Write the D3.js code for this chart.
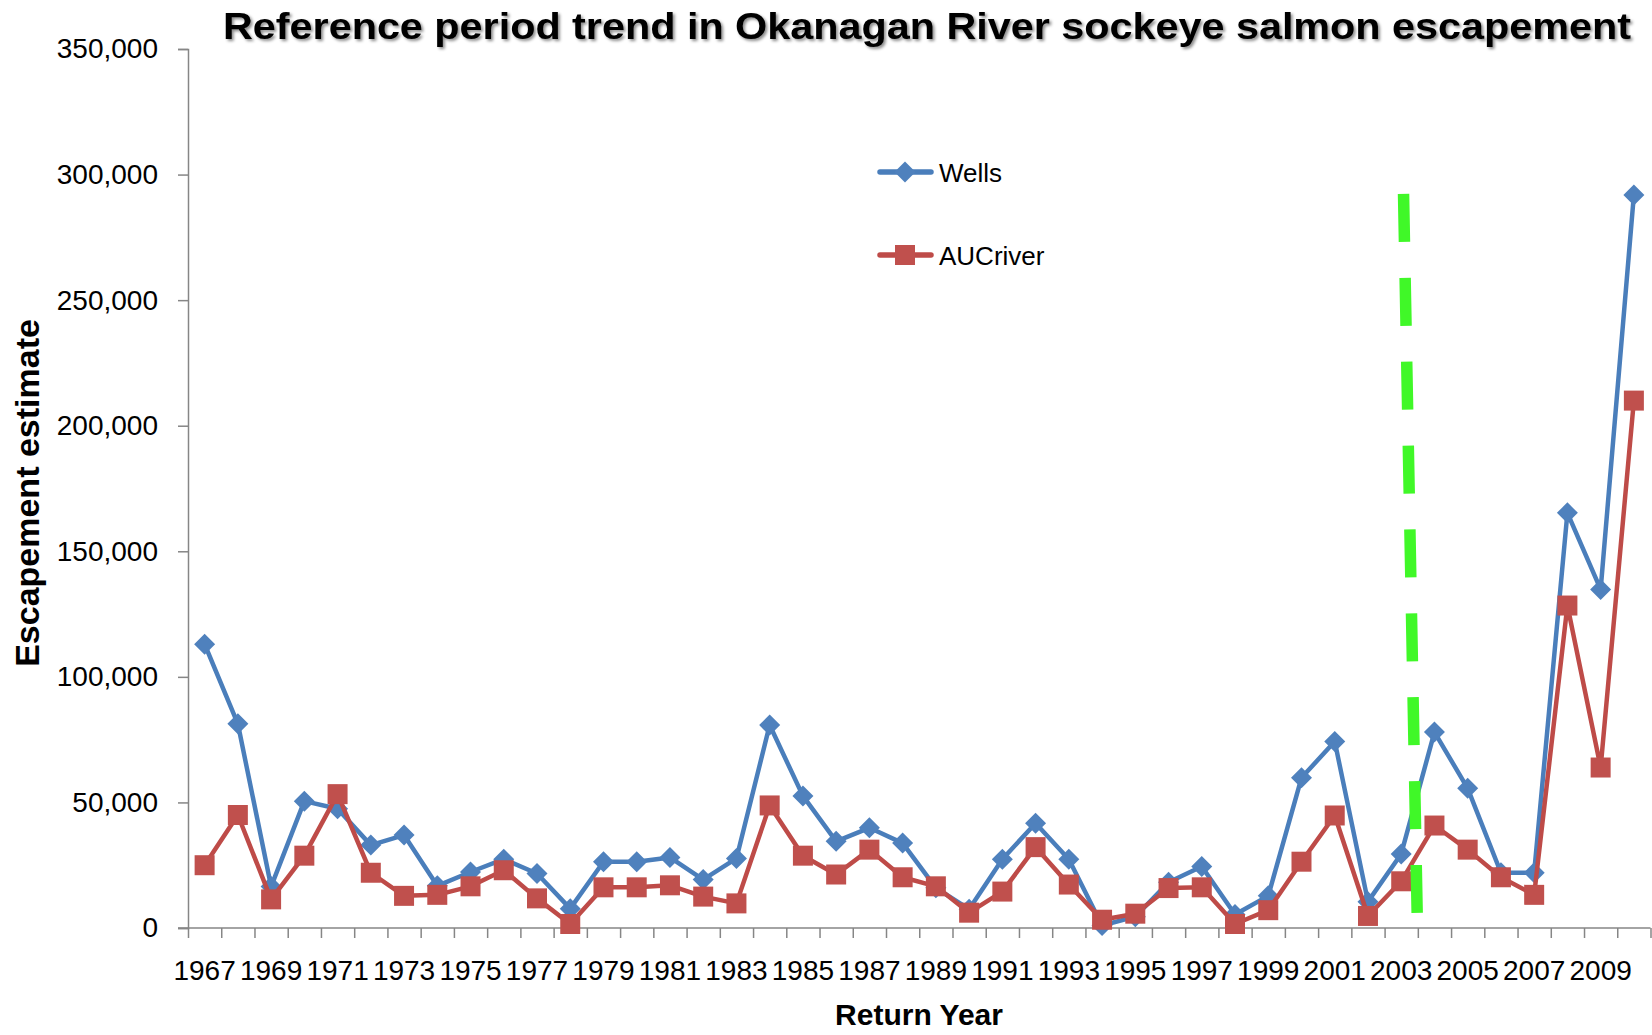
<!DOCTYPE html>
<html>
<head>
<meta charset="utf-8">
<script src="https://cdn.jsdelivr.net/npm/d3@7/dist/d3.min.js"></script>
<style>
    body { margin: 0; background: #fff; }
    svg { display: block; font-family: 'Liberation Sans', Arial, sans-serif; }
</style>
</head>
<body>
<svg width="1652" height="1035"></svg>
<script>
// data
var years = d3.range(1967, 2011);

var wells = [113000, 81300, 16500, 50500, 47500, 33000, 37000, 16800, 22300, 27400,
             21700, 7700, 26400, 26400, 28100, 19300, 27700, 80800, 52600, 34500,
             39900, 33800, 16000, 7500, 27400, 41700, 27400, 1000, 4500, 18200,
             24500, 5400, 12800, 59800, 74300, 10500, 29500, 78000, 55600, 22000,
             22000, 165300, 134800, 291900];

var aucRiver = [25000, 45000, 11400, 28800, 53300, 22000, 12800, 13200, 16600, 23000,
                11800, 1600, 16200, 16200, 17000, 12500, 9800, 48800, 28800, 21300,
                31200, 20200, 16600, 6100, 14500, 32200, 17300, 3300, 5700, 15900,
                16200, 1600, 7100, 26400, 44800, 4800, 18600, 40800, 31200, 20200,
                13200, 128400, 63900, 210000];

var yTicks = [0, 50000, 100000, 150000, 200000, 250000, 300000, 350000];
var xLabelYears = years.filter(function(d) { return d % 2 === 1; });

// green dashed marker line (year, value at both ends)
var greenLine = [{year: 2003.07, value: 292300}, {year: 2003.48, value: 5900}];

var series = [
    {name: 'Wells', values: wells, line: '#4A7EBB', fill: '#4F81BD', shape: 'diamond'},
    {name: 'AUCriver', values: aucRiver, line: '#BE4B48', fill: '#C0504D', shape: 'square'}
];

var svg = d3.select('svg');

var defs = svg.append('defs');
var shadow = defs.append('filter')
    .attr('id', 'titleShadow')
    .attr('x', '-5%').attr('y', '-30%')
    .attr('width', '110%').attr('height', '160%');
shadow.append('feDropShadow')
    .attr('dx', 2).attr('dy', 2)
    .attr('stdDeviation', 1.6)
    .attr('flood-color', '#000')
    .attr('flood-opacity', 0.45);

var xScale = d3.scaleLinear()
    .domain([1966.5, 2010.5])
    .range([188, 1650.5]);

var yScale = d3.scaleLinear()
    .domain([0, 350000])
    .range([928, 49]);

var chartG = svg.append('g');

// y axis
var yAxisG = chartG.append('g')
    .attr('transform', 'translate(188, 0)')
    .call(d3.axisLeft(yScale)
        .tickValues(yTicks)
        .tickSize(10)
        .tickPadding(20)
        .tickFormat(d3.format(',')));

// x axis, ticks sit between years
var xAxisG = chartG.append('g')
    .attr('transform', 'translate(0, 928)')
    .call(d3.axisBottom(xScale)
        .tickValues(d3.range(1966.5, 2011, 1))
        .tickSize(10)
        .tickFormat(''));

chartG.selectAll('.domain')
    .attr('stroke', '#868686')
    .attr('stroke-width', 1.5);
chartG.selectAll('.tick line')
    .attr('stroke', '#868686')
    .attr('stroke-width', 1.5);
yAxisG.selectAll('text')
    .attr('font-size', 28)
    .attr('font-family', "'Liberation Sans', Arial, sans-serif")
    .attr('fill', '#000');

// extend x axis line under the zero tick
xAxisG.select('.domain').attr('d', 'M178,0H1650.5');

chartG.append('g')
    .selectAll('text')
    .data(xLabelYears)
    .enter()
    .append('text')
    .attr('x', function(d) { return xScale(d); })
    .attr('y', 980)
    .attr('text-anchor', 'middle')
    .attr('font-size', 28)
    .text(function(d) { return d; });

var line = d3.line()
    .x(function(d, i) { return xScale(years[i]); })
    .y(function(d) { return yScale(d); });

var diamond = 'M0,-10.5L10.5,0L0,10.5L-10.5,0Z';
var square = 'M-10,-10H10V10H-10Z';

series.forEach(function(s) {
    var g = chartG.append('g');
    g.append('path')
        .datum(s.values)
        .attr('d', line)
        .attr('fill', 'none')
        .attr('stroke', s.line)
        .attr('stroke-width', 4.5)
        .attr('stroke-linejoin', 'round');
    g.selectAll('.marker')
        .data(s.values)
        .enter()
        .append('path')
        .attr('class', 'marker')
        .attr('d', s.shape === 'diamond' ? diamond : square)
        .attr('fill', s.fill)
        .attr('transform', function(d, i) {
            return 'translate(' + [xScale(years[i]), yScale(d)] + ')';
        });
});

// green dashed line
chartG.append('line')
    .attr('x1', xScale(greenLine[0].year))
    .attr('y1', yScale(greenLine[0].value))
    .attr('x2', xScale(greenLine[1].year))
    .attr('y2', yScale(greenLine[1].value))
    .attr('stroke', '#40F828')
    .attr('stroke-width', 11.5)
    .attr('stroke-dasharray', '48,35.9');

// legend
var legendG = svg.append('g');
series.forEach(function(s, i) {
    var ly = 172 + i * 83;
    legendG.append('line')
        .attr('x1', 880).attr('x2', 931)
        .attr('y1', ly).attr('y2', ly)
        .attr('stroke', s.line)
        .attr('stroke-width', 5.5)
        .attr('stroke-linecap', 'round');
    legendG.append('path')
        .attr('d', s.shape === 'diamond' ? diamond : square)
        .attr('fill', s.fill)
        .attr('transform', 'translate(905,' + ly + ')');
    legendG.append('text')
        .attr('x', 939)
        .attr('y', ly + 9.5)
        .attr('font-size', 26)
        .text(s.name);
});

// titles
svg.append('text')
    .attr('x', 223)
    .attr('y', 39)
    .attr('font-size', 36)
    .attr('font-weight', 'bold')
    .attr('textLength', 1408)
    .attr('lengthAdjust', 'spacingAndGlyphs')
    .attr('filter', 'url(#titleShadow)')
    .text('Reference period trend in Okanagan River sockeye salmon escapement');

svg.append('text')
    .attr('transform', 'translate(39, 493) rotate(-90)')
    .attr('text-anchor', 'middle')
    .attr('font-size', 34)
    .attr('font-weight', 'bold')
    .text('Escapement estimate');

svg.append('text')
    .attr('x', 919)
    .attr('y', 1025)
    .attr('text-anchor', 'middle')
    .attr('font-size', 30)
    .attr('font-weight', 'bold')
    .text('Return Year');
</script>
</body>
</html>
